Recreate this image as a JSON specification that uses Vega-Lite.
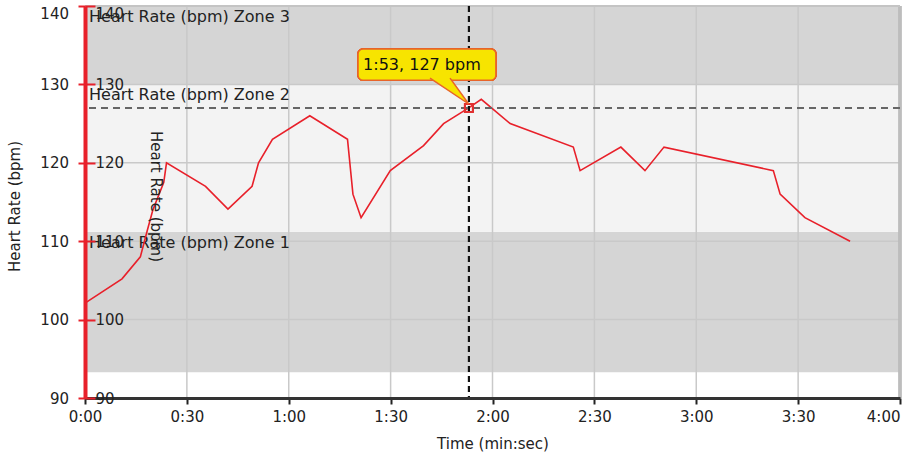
{
  "$schema": "https://vega.github.io/schema/vega-lite/v6.json",
  "width": 815,
  "height": 392,
  "autosize": {"type": "none"},
  "padding": {"left": 85, "top": 6, "right": 7, "bottom": 62},
  "background": "white",
  "config": {"view": {"stroke": null}, "font": "DejaVu Sans"},
  "datasets": {
    "hr": [
      {"t": 0, "hr": 102.1}, {"t": 10.9, "hr": 105.2}, {"t": 16.3, "hr": 108}, {"t": 18.3, "hr": 111.3},
      {"t": 20, "hr": 114}, {"t": 23.2, "hr": 117.5}, {"t": 24, "hr": 120}, {"t": 35.5, "hr": 117},
      {"t": 42.1, "hr": 114.1}, {"t": 49.2, "hr": 117}, {"t": 51.1, "hr": 120}, {"t": 55.2, "hr": 123},
      {"t": 66.2, "hr": 126}, {"t": 77.3, "hr": 123}, {"t": 78.9, "hr": 116}, {"t": 81.3, "hr": 113},
      {"t": 89.9, "hr": 119}, {"t": 99.7, "hr": 122.2}, {"t": 105.6, "hr": 125}, {"t": 113, "hr": 127},
      {"t": 116.7, "hr": 128.1}, {"t": 125.2, "hr": 125}, {"t": 143.8, "hr": 122}, {"t": 145.8, "hr": 119},
      {"t": 157.8, "hr": 122}, {"t": 164.9, "hr": 119}, {"t": 170.5, "hr": 122}, {"t": 202.7, "hr": 119},
      {"t": 204.7, "hr": 116}, {"t": 212, "hr": 113}, {"t": 225.3, "hr": 110}
    ],
    "zones": [
      {"zone": "Zone 1", "lo": 93.3, "hi": 111.2, "label": "Heart Rate (bpm) Zone 1"},
      {"zone": "Zone 2", "lo": 111.2, "hi": 130, "label": "Heart Rate (bpm) Zone 2"},
      {"zone": "Zone 3", "lo": 130, "hi": 140, "label": "Heart Rate (bpm) Zone 3"}
    ],
    "gridT": [{"g": 30}, {"g": 60}, {"g": 90}, {"g": 120}, {"g": 150}, {"g": 180}, {"g": 210}],
    "gridHR": [{"g": 100}, {"g": 110}, {"g": 120}, {"g": 130}],
    "pointer": [{"k": 0, "t": 101.6, "hr": 130.8}, {"k": 1, "t": 113, "hr": 127.5}, {"k": 2, "t": 107.5, "hr": 130.8}]
  },
  "layer": [
    {
      "data": {"name": "zones"},
      "mark": {"type": "rect"},
      "encoding": {
        "x": {"datum": 0, "type": "quantitative", "axis": null},
        "x2": {"datum": 240},
        "y": {
          "field": "lo", "type": "quantitative",
          "scale": {"domain": [90, 140], "nice": false, "zero": false},
          "axis": {
            "orient": "left", "offset": -10, "values": [90, 100, 110, 120, 130, 140],
            "domain": false, "grid": false, "tickColor": "#e8202a", "tickWidth": 2, "tickSize": 10,
            "labelAlign": "left", "labelPadding": -10, "labelFontSize": 15, "labelColor": "#222",
            "labelBaseline": {"condition": {"test": "datum.value == 140", "value": "top"}, "value": "middle"},
            "labelFlush": false, "labelOverlap": false, "labelBound": false,
            "title": "Heart Rate (bpm)", "titleAngle": 90, "titleX": 60, "titleY": 190,
            "titleAlign": "center", "titleBaseline": "middle", "titleFontSize": 15,
            "titleFontWeight": "normal", "titleColor": "#222", "zindex": 1
          }
        },
        "y2": {"field": "hi"},
        "color": {"field": "zone", "type": "nominal", "legend": null,
          "scale": {"domain": ["Zone 1", "Zone 2", "Zone 3"], "range": ["#d5d5d5", "#f3f3f3", "#d5d5d5"]}}
      }
    },
    {
      "data": {"name": "gridT"},
      "mark": {"type": "rule", "color": "#c9c9c9", "strokeWidth": 1.5},
      "encoding": {"x": {"field": "g", "type": "quantitative", "axis": null}}
    },
    {
      "data": {"name": "gridHR"},
      "mark": {"type": "rule", "color": "#c9c9c9", "strokeWidth": 1.5},
      "encoding": {"y": {"field": "g", "type": "quantitative", "axis": null}}
    },
    {
      "data": {"name": "gridT"},
      "mark": {"type": "rule", "color": "#bdbdbd", "strokeWidth": 2.5},
      "encoding": {"x": {"datum": 240, "type": "quantitative", "axis": null}}
    },
    {
      "data": {"name": "gridT"},
      "mark": {"type": "rule", "color": "#c4c4c4", "strokeWidth": 2},
      "encoding": {"y": {"datum": 140, "type": "quantitative", "axis": null}}
    },
    {
      "data": {"name": "zones"},
      "mark": {"type": "text", "align": "left", "baseline": "top", "dx": 4, "dy": 3, "fontSize": 16, "color": "#222"},
      "encoding": {
        "x": {"datum": 0, "type": "quantitative", "axis": null},
        "y": {"field": "hi", "type": "quantitative", "axis": null},
        "text": {"field": "label"}
      }
    },
    {
      "data": {"name": "hr"},
      "mark": {"type": "line", "color": "#e8202a", "strokeWidth": 1.6},
      "encoding": {
        "x": {
          "field": "t", "type": "quantitative",
          "scale": {"domain": [0, 240], "nice": false, "zero": false},
          "axis": {
            "orient": "bottom",
            "values": [0, 30, 60, 90, 120, 150, 180, 210, 240],
            "labelExpr": "floor(datum.value/60) + ':' + (datum.value % 60 < 10 ? '0' : '') + (datum.value % 60)",
            "grid": false, "domainColor": "#333", "domainWidth": 3, "tickColor": "#222", "tickWidth": 2, "tickSize": 6,
            "labelFontSize": 15, "labelColor": "#222", "labelPadding": 12, "labelBaseline": "middle",
            "labelAlign": {"condition": {"test": "datum.value == 240", "value": "right"}, "value": "center"},
            "labelFlush": false, "labelOverlap": false, "labelBound": false,
            "title": "Time (min:sec)", "titleFontSize": 15, "titleFontWeight": "normal", "titleColor": "#222",
            "titleBaseline": "middle", "titleY": 45, "zindex": 1
          }
        },
        "y": {
          "field": "hr", "type": "quantitative",
          "scale": {"domain": [90, 140], "nice": false, "zero": false},
          "axis": {
            "orient": "left", "values": [90, 100, 110, 120, 130, 140], "grid": false,
            "domainColor": "#e8202a", "domainWidth": 4, "tickColor": "#e8202a", "tickWidth": 2, "tickSize": 7,
            "labelFontSize": 15, "labelPadding": 9.5, "labelColor": "#222",
            "labelBaseline": {"condition": {"test": "datum.value == 140", "value": "top"}, "value": "middle"},
            "labelFlush": false, "labelOverlap": false, "labelBound": false,
            "title": "Heart Rate (bpm)", "titleFontSize": 15, "titleFontWeight": "normal", "titleColor": "#222",
            "titleX": -71, "titleY": 200, "titleAngle": -90, "titleAlign": "center", "titleBaseline": "middle",
            "zindex": 1
          }
        }
      }
    },
    {
      "data": {"name": "gridT"},
      "mark": {"type": "rule", "color": "#111", "strokeWidth": 1.5, "strokeDash": [6, 4]},
      "encoding": {"x": {"datum": 113, "type": "quantitative", "axis": null}}
    },
    {
      "data": {"name": "gridT"},
      "mark": {"type": "rule", "color": "#666", "strokeWidth": 2, "strokeDash": [7, 5]},
      "encoding": {"y": {"datum": 127, "type": "quantitative", "axis": null}}
    },
    {
      "data": {"name": "gridT"},
      "mark": {"type": "point", "shape": "square", "size": 64, "filled": false, "stroke": "#e03030", "strokeWidth": 1.5, "opacity": 1},
      "encoding": {
        "x": {"datum": 113, "type": "quantitative", "axis": null},
        "y": {"datum": 127, "type": "quantitative", "axis": null}
      }
    },
    {
      "data": {"name": "gridT"},
      "mark": {"type": "rect", "fill": "#f7e400", "stroke": "#e8642a", "strokeWidth": 1.5, "cornerRadius": 5},
      "encoding": {
        "x": {"datum": 80.4, "type": "quantitative", "axis": null},
        "x2": {"datum": 121},
        "y": {"datum": 134.5, "type": "quantitative", "axis": null},
        "y2": {"datum": 130.54}
      }
    },
    {
      "data": {"name": "pointer"},
      "mark": {"type": "line", "fill": "#f7e400", "stroke": "#e8642a", "strokeWidth": 1.5},
      "encoding": {
        "x": {"field": "t", "type": "quantitative", "axis": null},
        "y": {"field": "hr", "type": "quantitative", "axis": null},
        "order": {"field": "k"}
      }
    },
    {
      "data": {"values": [{"label": "1:53, 127 bpm"}]},
      "mark": {"type": "text", "align": "left", "baseline": "middle", "fontSize": 16, "color": "#111"},
      "encoding": {
        "x": {"datum": 81.9, "type": "quantitative", "axis": null},
        "y": {"datum": 132.45, "type": "quantitative", "axis": null},
        "text": {"field": "label"}
      }
    }
  ],
  "resolve": {"axis": {"x": "independent", "y": "independent"}}
}
